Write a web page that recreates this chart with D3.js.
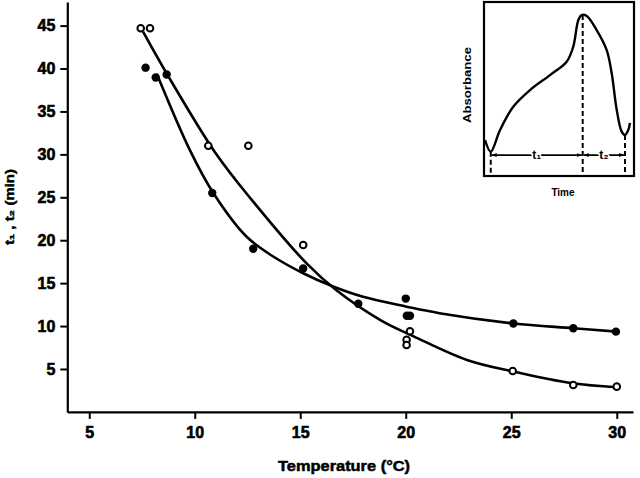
<!DOCTYPE html>
<html><head><meta charset="utf-8">
<script src="https://cdn.jsdelivr.net/npm/d3@7"></script>
<style>
html,body{margin:0;padding:0;background:#fff;}
svg{display:block;font-family:"Liberation Sans",Arial,sans-serif;font-weight:bold;}
</style></head>
<body>
<svg id="c" width="640" height="478"></svg>
<script>
// ---- data ----
const xTicks = [5, 10, 15, 20, 25, 30];
const yTicks = [5, 10, 15, 20, 25, 30, 35, 40, 45];
const openT  = [7.44, 7.88, 10.64, 12.54, 15.14, 20.2, 20.04, 20.04, 25.07, 27.94, 30.0];
const openV  = [44.7, 44.7, 31.0, 31.0, 19.45, 9.4, 8.4, 7.8, 4.77, 3.14, 2.94];
const filledT = [7.67, 8.15, 8.67, 10.83, 12.77, 15.14, 17.75, 20.0, 20.05, 20.2, 25.1, 27.94, 29.96];
const filledV = [40.1, 38.95, 39.3, 25.5, 19.0, 16.7, 12.6, 13.2, 11.2, 11.2, 10.3, 9.75, 9.35];
const upperT = [7.55, 8.7, 11.0, 12.7, 15.3, 16.7, 18.8, 20.4, 22.9, 25.1, 27.9, 30.0];
const upperV = [44.3, 39.3, 30.1, 24.7, 17.3, 14.2, 10.7, 8.77, 6.05, 4.7, 3.33, 2.87];
const lowerT = [8.2, 9.77, 10.88, 12.46, 13.72, 15.14, 16.56, 17.98, 20.04, 21.6, 25.1, 27.94, 30.0];
const lowerV = [39.4, 30.5, 25.5, 20.4, 18.1, 16.15, 14.6, 13.4, 12.26, 11.5, 10.3, 9.75, 9.35];
// inset (schematic absorbance trace, arbitrary units 0-100)
const insetT = [0.7, 4.5, 10.7, 19.5, 30.7, 44, 55.1, 59.5, 62.9, 65.1, 68.5, 75.1, 81.8, 85.1, 88.5, 91.8, 94, 96.2, 97.3];
const insetA = [20.7, 14, 26.4, 39.8, 49.4, 58, 65.7, 74.3, 89.7, 92.5, 92, 83.9, 72.4, 59.2, 37.9, 25.5, 23.6, 26.4, 30.5];
const insetMarks = [4.5, 65.8, 94];   // start, peak, end
const insetMarkA = [14, 92.5, 23.6];
const labels = {x: "Temperature (°C)", y: "t\u2081 , t\u2082 (min)", insetX: "Time", insetY: "Absorbance", t1: "t\u2081", t2: "t\u2082"};

const svg = d3.select("#c");
const x = d3.scaleLinear().domain([3.96, 30.77]).range([67.3, 633]);
const y = d3.scaleLinear().domain([0, 47.75]).range([411.9, 2]);

// axes
const gx = svg.append("g").attr("transform", "translate(0,411.9)")
  .call(d3.axisBottom(x).tickValues(xTicks).tickSize(7).tickSizeOuter(0).tickPadding(8));
const gy = svg.append("g").attr("transform", "translate(67.3,0)")
  .call(d3.axisLeft(y).tickValues(yTicks).tickSize(7).tickSizeOuter(0).tickPadding(5));
[gx, gy].forEach(g => {
  g.select(".domain").attr("stroke", "#000").attr("stroke-width", 2.2);
  g.selectAll(".tick line").attr("stroke", "#000").attr("stroke-width", 2);
  g.selectAll(".tick text").attr("fill", "#000").style("font-size", "16px").style("font-weight", "bold")
    .style("font-family", "'Liberation Sans',Arial,sans-serif")
    .attr("stroke", "#000").attr("stroke-width", 0.6);
});

svg.append("text").attr("x", 344).attr("y", 471).attr("text-anchor", "middle")
  .style("font-size", "15px").attr("stroke", "#000").attr("stroke-width", 0.5)
  .attr("textLength", 132).attr("lengthAdjust", "spacingAndGlyphs").text(labels.x);
svg.append("text").attr("transform", "translate(14,207) rotate(-90)").attr("text-anchor", "middle")
  .style("font-size", "13px").attr("stroke", "#000").attr("stroke-width", 0.4)
  .attr("textLength", 76).attr("lengthAdjust", "spacingAndGlyphs").text(labels.y);

// fitted curves
const line = d3.line().x(d => x(d[0])).y(d => y(d[1])).curve(d3.curveCatmullRom.alpha(0.5));
svg.append("path").datum(upperT.map((t, i) => [t, upperV[i]])).attr("d", line)
  .attr("fill", "none").attr("stroke", "#000").attr("stroke-width", 2.6);
svg.append("path").datum(lowerT.map((t, i) => [t, lowerV[i]])).attr("d", line)
  .attr("fill", "none").attr("stroke", "#000").attr("stroke-width", 2.6);

// points
svg.append("g").selectAll("circle").data(filledT.map((t, i) => [t, filledV[i]])).join("circle")
  .attr("cx", d => x(d[0])).attr("cy", d => y(d[1])).attr("r", 4.2).attr("fill", "#000");
svg.append("g").selectAll("circle").data(openT.map((t, i) => [t, openV[i]])).join("circle")
  .attr("cx", d => x(d[0])).attr("cy", d => y(d[1])).attr("r", 3.3)
  .attr("fill", "#fff").attr("stroke", "#000").attr("stroke-width", 2);

// ---- inset ----
const ix = d3.scaleLinear().domain([0, 100]).range([484, 634]);
const iy = d3.scaleLinear().domain([0, 100]).range([176, 2]);
svg.append("rect").attr("x", ix(0)).attr("y", iy(100)).attr("width", ix(100) - ix(0)).attr("height", iy(0) - iy(100))
  .attr("fill", "#fff").attr("stroke", "#000").attr("stroke-width", 2.2);
const iline = d3.line().x(d => ix(d[0])).y(d => iy(d[1])).curve(d3.curveCatmullRom.alpha(0.5));
svg.append("path").datum(insetT.map((t, i) => [t, insetA[i]])).attr("d", iline)
  .attr("fill", "none").attr("stroke", "#000").attr("stroke-width", 2.4);
// dashed verticals
svg.append("g").selectAll("line").data(insetMarks.map((t, i) => [t, insetMarkA[i]])).join("line")
  .attr("x1", d => ix(d[0])).attr("x2", d => ix(d[0])).attr("y1", d => iy(d[1])).attr("y2", iy(0))
  .attr("stroke", "#000").attr("stroke-width", 2).attr("stroke-dasharray", "5,3");
// arrows
const defs = svg.append("defs");
defs.append("marker").attr("id", "ah").attr("viewBox", "0 0 10 10").attr("refX", 10).attr("refY", 5)
  .attr("markerWidth", 5).attr("markerHeight", 5).attr("orient", "auto-start-reverse").attr("markerUnits", "userSpaceOnUse")
  .append("path").attr("d", "M0,1 L10,5 L0,9 Z").attr("fill", "#000");
const ay = iy(12);
[[insetMarks[0], insetMarks[1]], [insetMarks[1], insetMarks[2]]].forEach(seg => {
  svg.append("line").attr("x1", ix(seg[0]) + 1).attr("x2", ix(seg[1]) - 1).attr("y1", ay).attr("y2", ay)
    .attr("stroke", "#000").attr("stroke-width", 1.8)
    .attr("marker-start", "url(#ah)").attr("marker-end", "url(#ah)");
});
[[labels.t1, (insetMarks[0] + insetMarks[1]) / 2], [labels.t2, (insetMarks[1] + insetMarks[2]) / 2]].forEach(l => {
  svg.append("text").attr("x", ix(l[1])).attr("y", ay + 4).attr("text-anchor", "middle")
    .style("font-size", "12px").attr("stroke", "#fff").attr("stroke-width", 3).attr("paint-order", "stroke")
    .text(l[0]);
});
svg.append("text").attr("transform", "translate(471,85) rotate(-90)").attr("text-anchor", "middle")
  .style("font-size", "10px").attr("textLength", 76).attr("lengthAdjust", "spacingAndGlyphs").text(labels.insetY);
svg.append("text").attr("x", 563).attr("y", 196).attr("text-anchor", "middle")
  .style("font-size", "10px").text(labels.insetX);
</script>
</body></html>
